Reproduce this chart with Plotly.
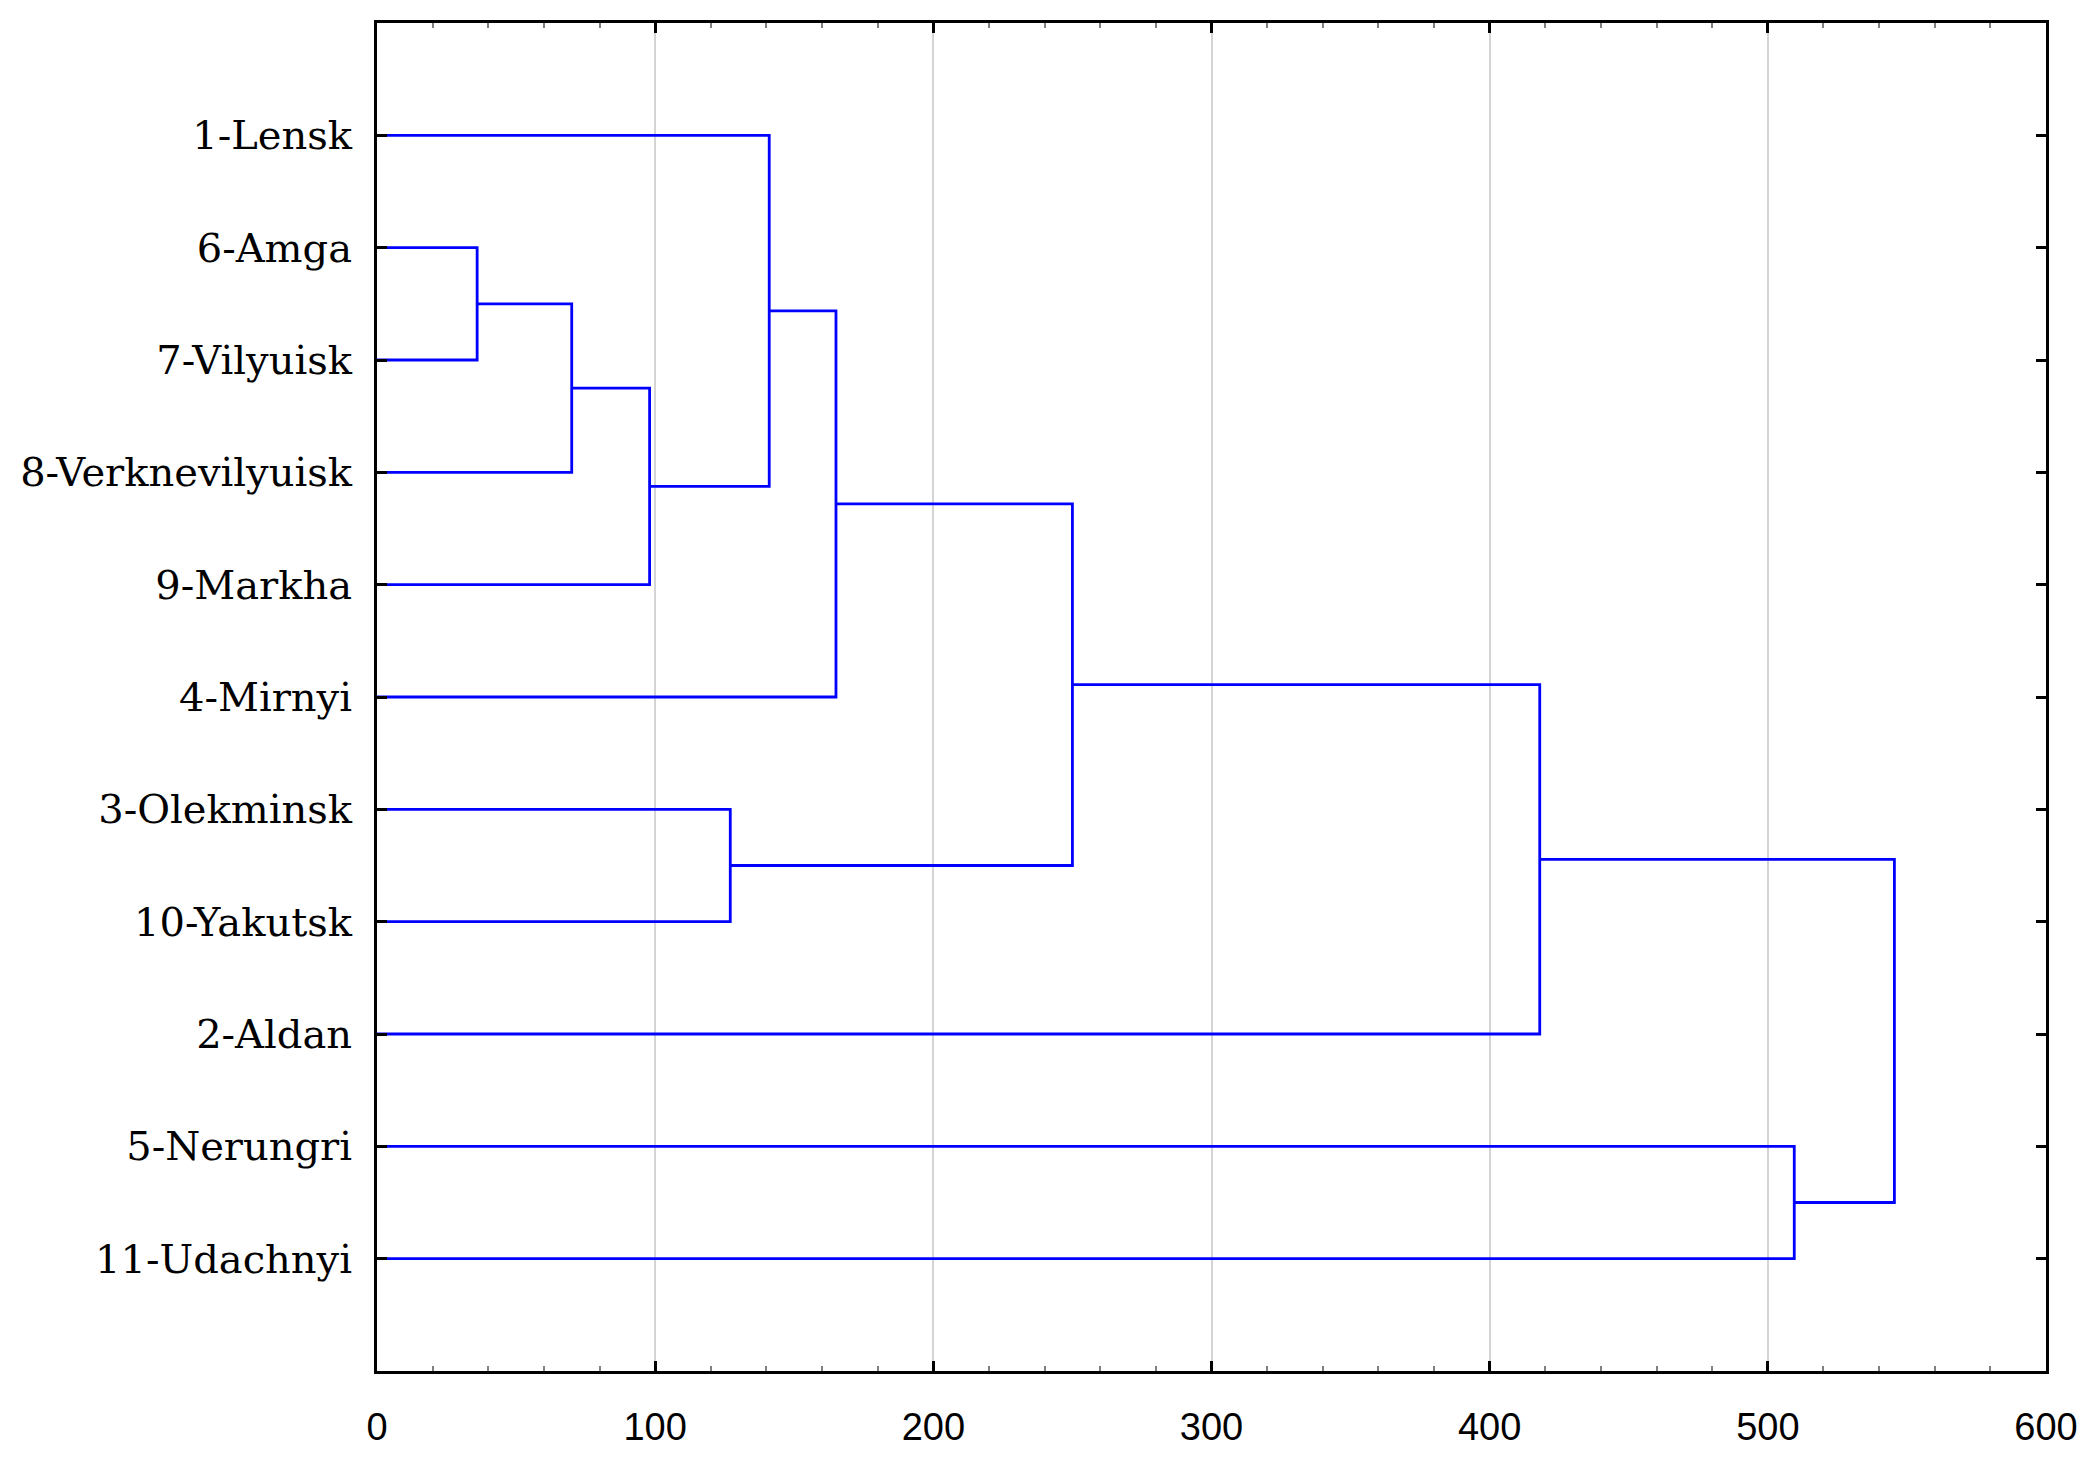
"""Hierarchical clustering dendrogram of Yakutia districts."""

import plotly.graph_objects as go

# leaf order, top to bottom
LEAVES = [
    "1-Lensk",
    "6-Amga",
    "7-Vilyuisk",
    "8-Verknevilyuisk",
    "9-Markha",
    "4-Mirnyi",
    "3-Olekminsk",
    "10-Yakutsk",
    "2-Aldan",
    "5-Nerungri",
    "11-Udachnyi",
]

# linkage: node ids 0..10 are leaves, each merge creates id 11, 12, ...
MERGE_LEFT = [1, 11, 12, 0, 14, 6, 15, 17, 9, 18]
MERGE_RIGHT = [2, 3, 4, 13, 5, 7, 16, 8, 10, 19]
MERGE_HEIGHT = [36, 70, 98, 141, 165, 127, 250, 418, 509.5, 545.5]

X_TICKS = [0, 100, 200, 300, 400, 500, 600]

BLUE = "#0000ff"

# position of every node: leaves at 1..n, clusters at the mid of their children
node_y = {i: i + 1 for i in range(len(LEAVES))}
node_h = {i: 0 for i in range(len(LEAVES))}

xs, ys = [], []
for k, (a, b, h) in enumerate(zip(MERGE_LEFT, MERGE_RIGHT, MERGE_HEIGHT)):
    nid = len(LEAVES) + k
    xs += [node_h[a], h, h, node_h[b], None]
    ys += [node_y[a], node_y[a], node_y[b], node_y[b], None]
    node_y[nid] = (node_y[a] + node_y[b]) / 2
    node_h[nid] = h

fig = go.Figure(
    go.Scatter(
        x=xs,
        y=ys,
        mode="lines",
        line=dict(color=BLUE, width=2.8),
        hoverinfo="skip",
        showlegend=False,
    )
)

fig.update_xaxes(
    range=[0, 600],
    tickvals=X_TICKS,
    ticktext=[str(v) for v in X_TICKS],
    ticks="inside",
    ticklen=10,
    tickwidth=3,
    tickcolor="black",
    minor=dict(dtick=20, ticks="inside", ticklen=5, tickwidth=2, tickcolor="#808080", showgrid=False),
    showline=True,
    linecolor="black",
    linewidth=3,
    mirror="allticks",
    showgrid=True,
    gridcolor="#d4d4d4",
    gridwidth=2,
    zeroline=False,
    ticklabelstandoff=20,
    tickfont=dict(family="Liberation Sans", size=38, color="black"),
)

fig.update_yaxes(
    range=[len(LEAVES) + 1, 0],
    tickvals=list(range(1, len(LEAVES) + 1)),
    ticktext=LEAVES,
    ticks="inside",
    ticklen=10,
    tickwidth=3,
    tickcolor="black",
    showline=True,
    linecolor="black",
    linewidth=3,
    mirror="allticks",
    showgrid=False,
    zeroline=False,
    ticklabelstandoff=14,
    tickfont=dict(family="DejaVu Serif", size=40, color="black"),
)

fig.update_layout(
    width=2094,
    height=1470,
    paper_bgcolor="white",
    plot_bgcolor="white",
    margin=dict(l=362, r=56, t=14, b=107),
)

fig.write_html("out.html")
